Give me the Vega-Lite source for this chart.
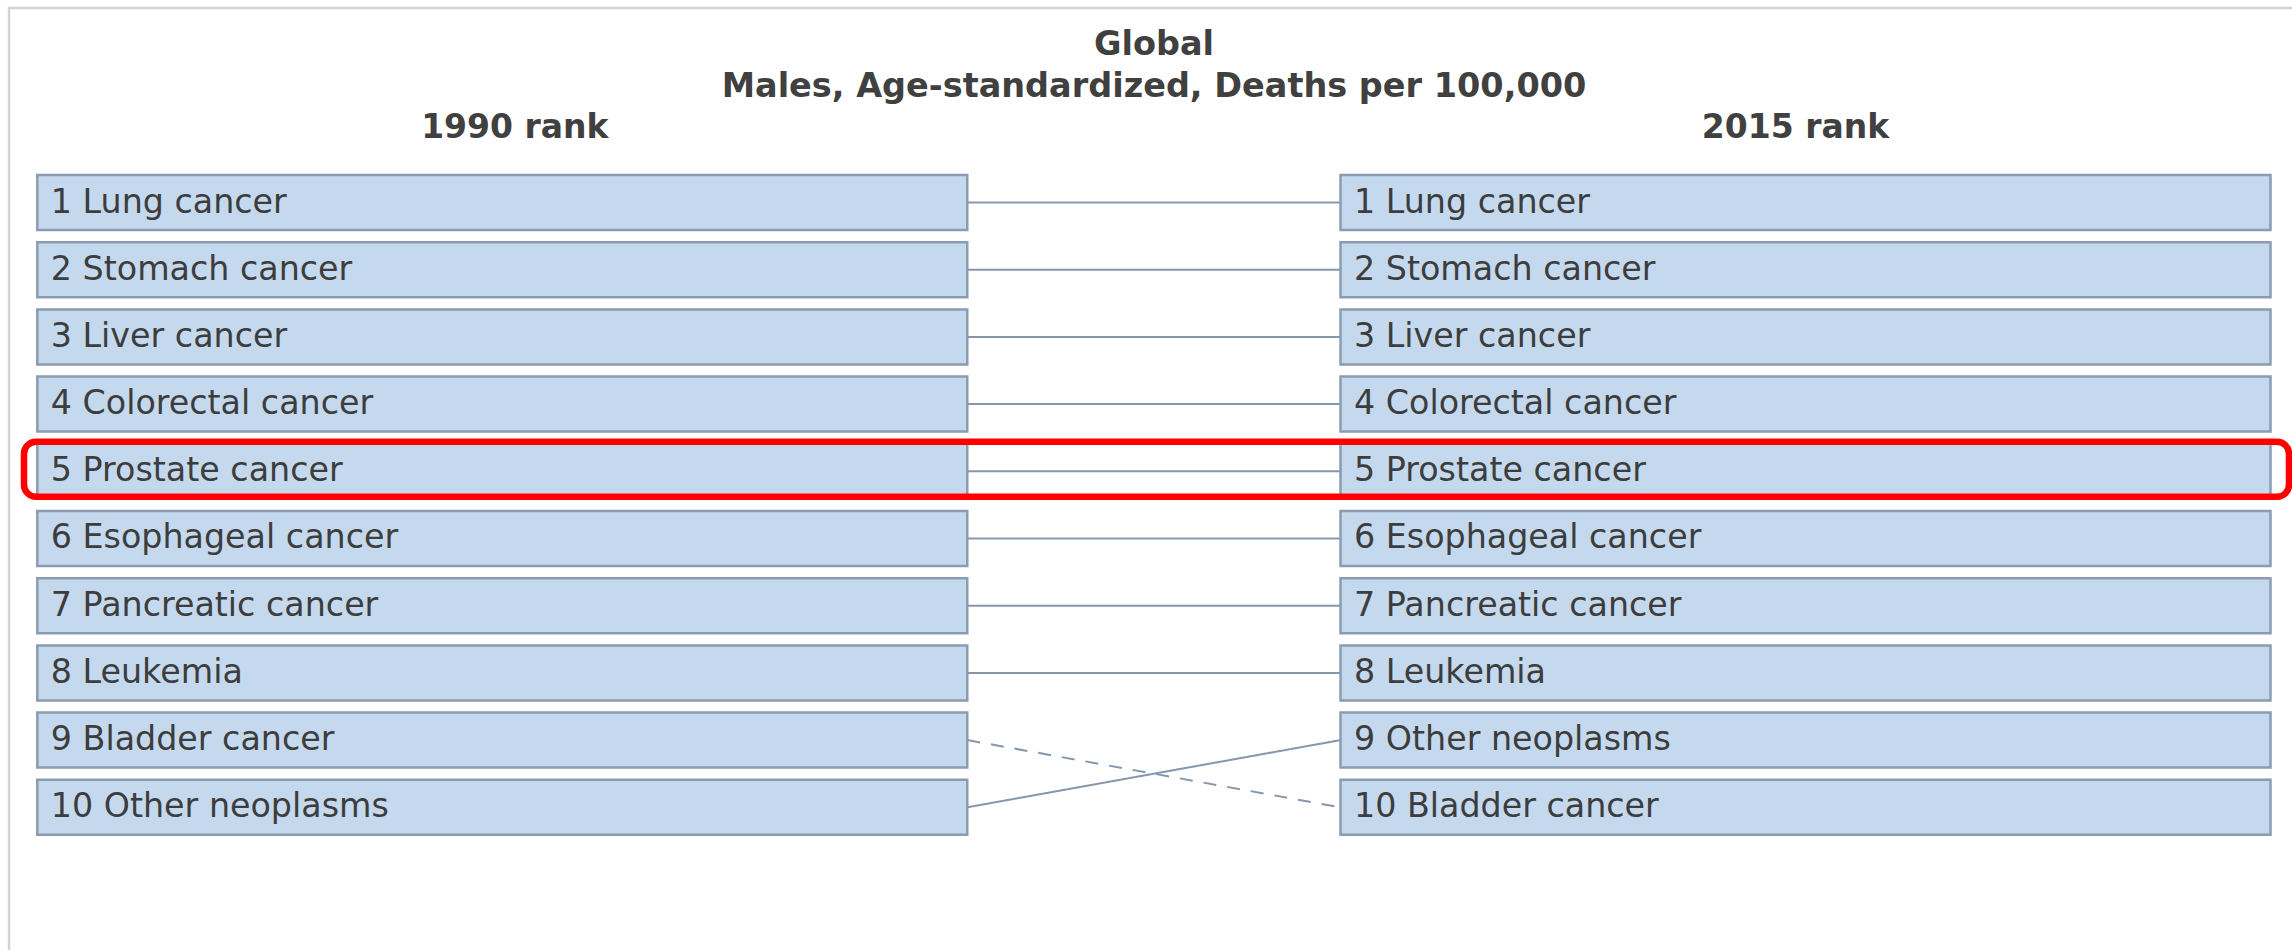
{
  "$schema": "https://vega.github.io/schema/vega-lite/v6.json",
  "width": 2290,
  "height": 950,
  "autosize": {"type": "none"},
  "padding": {"left": 9, "top": 8, "right": -7, "bottom": -8},
  "background": "white",
  "config": {
    "view": {"stroke": "#d4d4d4", "strokeWidth": 2.5},
    "font": "DejaVu Sans"
  },
  "title": {
    "text": ["Global", "Males, Age-standardized, Deaths per 100,000"],
    "anchor": "middle",
    "frame": "group",
    "font": "DejaVu Sans",
    "fontSize": 33.5,
    "fontWeight": "bold",
    "color": "#404040",
    "lineHeight": 42,
    "baseline": "top",
    "offset": -96
  },
  "datasets": {
    "ranks": [
      {"year": 1990, "rank": 1, "cause": "Lung cancer", "label": "1 Lung cancer", "trend": "same"},
      {"year": 1990, "rank": 2, "cause": "Stomach cancer", "label": "2 Stomach cancer", "trend": "same"},
      {"year": 1990, "rank": 3, "cause": "Liver cancer", "label": "3 Liver cancer", "trend": "same"},
      {"year": 1990, "rank": 4, "cause": "Colorectal cancer", "label": "4 Colorectal cancer", "trend": "same"},
      {"year": 1990, "rank": 5, "cause": "Prostate cancer", "label": "5 Prostate cancer", "trend": "same"},
      {"year": 1990, "rank": 6, "cause": "Esophageal cancer", "label": "6 Esophageal cancer", "trend": "same"},
      {"year": 1990, "rank": 7, "cause": "Pancreatic cancer", "label": "7 Pancreatic cancer", "trend": "same"},
      {"year": 1990, "rank": 8, "cause": "Leukemia", "label": "8 Leukemia", "trend": "same"},
      {"year": 1990, "rank": 9, "cause": "Bladder cancer", "label": "9 Bladder cancer", "trend": "down"},
      {"year": 1990, "rank": 10, "cause": "Other neoplasms", "label": "10 Other neoplasms", "trend": "up"},
      {"year": 2015, "rank": 1, "cause": "Lung cancer", "label": "1 Lung cancer", "trend": "same"},
      {"year": 2015, "rank": 2, "cause": "Stomach cancer", "label": "2 Stomach cancer", "trend": "same"},
      {"year": 2015, "rank": 3, "cause": "Liver cancer", "label": "3 Liver cancer", "trend": "same"},
      {"year": 2015, "rank": 4, "cause": "Colorectal cancer", "label": "4 Colorectal cancer", "trend": "same"},
      {"year": 2015, "rank": 5, "cause": "Prostate cancer", "label": "5 Prostate cancer", "trend": "same"},
      {"year": 2015, "rank": 6, "cause": "Esophageal cancer", "label": "6 Esophageal cancer", "trend": "same"},
      {"year": 2015, "rank": 7, "cause": "Pancreatic cancer", "label": "7 Pancreatic cancer", "trend": "same"},
      {"year": 2015, "rank": 8, "cause": "Leukemia", "label": "8 Leukemia", "trend": "same"},
      {"year": 2015, "rank": 9, "cause": "Other neoplasms", "label": "9 Other neoplasms", "trend": "up"},
      {"year": 2015, "rank": 10, "cause": "Bladder cancer", "label": "10 Bladder cancer", "trend": "down"}
    ]
  },
  "data": {"name": "ranks"},
  "resolve": {"scale": {"x": "independent"}},
  "layer": [
    {
      "mark": {"type": "line", "strokeWidth": 2, "color": "#8597ad"},
      "encoding": {
        "x": {"field": "year", "type": "quantitative", "scale": {"domain": [1990, 2015], "range": [958.3, 1331.5], "zero": false, "nice": false}, "axis": null},
        "y": {"field": "rank", "type": "ordinal", "scale": {"domain": [1, 2, 3, 4, 5, 6, 7, 8, 9, 10], "range": [167, 826.8], "paddingInner": 0.1815, "paddingOuter": 0}, "axis": null},
        "detail": {"field": "cause"},
        "strokeDash": {"field": "trend", "type": "nominal", "scale": {"domain": ["same", "up", "down"], "range": [[1, 0], [1, 0], [13, 11]]}, "legend": null}
      }
    },
    {
      "layer": [
        {
          "mark": {"type": "rect", "fill": "#c5d9ee", "stroke": "#8b9cb2", "strokeWidth": 2.5},
          "encoding": {
            "x": {
              "field": "year", "type": "nominal",
              "scale": {"domain": [1990, 2015], "range": [28.3, 2261.5], "paddingInner": 0.2864, "paddingOuter": 0},
              "axis": {
                "orient": "top", "offset": -119, "domain": false, "ticks": false, "grid": false,
                "labelPadding": 0, "labelFontSize": 33, "labelFontWeight": "bold", "labelColor": "#404040",
                "labelFont": "DejaVu Sans", "labelBaseline": "middle", "labelAngle": 0, "labelOverlap": false,
                "labelLimit": 0, "labelBound": false, "labelFlush": false,
                "labelExpr": "datum.label + ' rank'", "title": null,
                "labelOffset": {"condition": {"test": "datum.value == 1990", "value": 12.5}, "value": -10}
              }
            },
            "y": {"field": "rank", "type": "ordinal"}
          }
        },
        {
          "mark": {"type": "text", "align": "left", "baseline": "middle", "dx": 13.5, "fontSize": 33.3, "color": "#3d3d3d", "font": "DejaVu Sans"},
          "encoding": {
            "x": {"field": "year", "type": "nominal", "bandPosition": 0},
            "y": {"field": "rank", "type": "ordinal"},
            "text": {"field": "label"}
          }
        },
        {
          "transform": [{"filter": "datum.year == 1990 && datum.rank == 5"}],
          "mark": {"type": "rect", "filled": false, "color": "#ff0000", "strokeWidth": 6.5, "cornerRadius": 12, "xOffset": -13.3, "x2Offset": 18.5, "yOffset": -2, "y2Offset": -3},
          "encoding": {
            "x": {"datum": 1990, "type": "nominal", "bandPosition": 0},
            "x2": {"datum": 2015, "bandPosition": 1},
            "y": {"field": "rank", "type": "ordinal"}
          }
        }
      ]
    }
  ]
}
